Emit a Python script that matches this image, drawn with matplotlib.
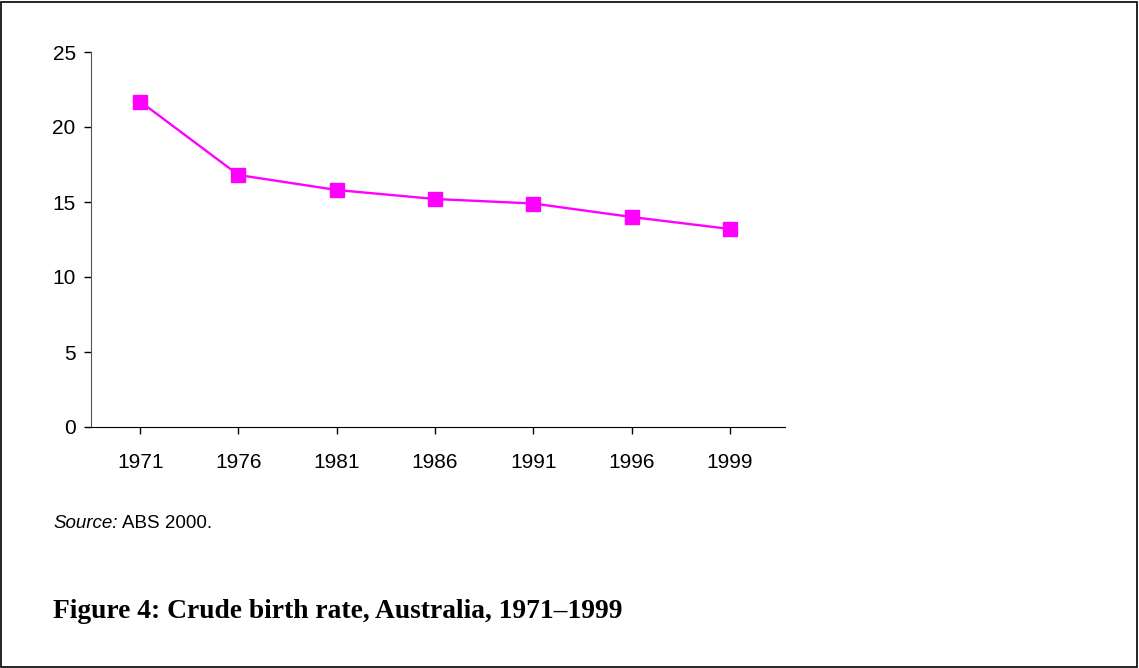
import matplotlib
matplotlib.use('Agg')
import matplotlib.pyplot as plt
from matplotlib.patches import Rectangle

# Dati
years = ['1971', '1976', '1981', '1986', '1991', '1996', '1999']
birth_rate = [21.7, 16.8, 15.8, 15.2, 14.9, 14.0, 13.2]

plt.rcParams['font.family'] = ['Liberation Sans', 'DejaVu Sans']

fig = plt.figure(figsize=(11.39, 6.68), dpi=100)
ax = fig.add_axes([91 / 1139, 1 - 427 / 668, 694 / 1139, 375 / 668])

x = range(len(years))
ax.plot(x, birth_rate, color='#FF00FF', linewidth=1.7, marker='s', markersize=10)

ax.set_xlim(-0.5, 6.56)
ax.set_ylim(0, 25)
ax.set_yticks([0, 5, 10, 15, 20, 25])
ax.set_xticks(list(x))
ax.set_xticklabels(years)
ax.tick_params(axis='both', labelsize=15, color='black', length=5, width=1)
ax.tick_params(axis='x', pad=14)
ax.tick_params(axis='y', pad=6)

for side in ['top', 'right']:
    ax.spines[side].set_visible(False)
ax.spines['left'].set_color('#555555')
ax.spines['bottom'].set_color('black')

# Testi
src = fig.text(53 / 1139, 1 - 524 / 668, 'Source:', fontsize=13.5, style='italic', va='center')
fig.canvas.draw()
bb = src.get_window_extent()
fig.text(bb.x1 + 5, bb.y0, 'ABS 2000.', fontsize=13.5, va='bottom',
         transform=None)
fig.text(53 / 1139, 1 - 612 / 668, 'Figure 4: Crude birth rate, Australia, 1971\u20131999',
         fontsize=19.8, fontweight='bold', family='Liberation Serif', va='center')

# Bordo
fig.patches.append(Rectangle((1 / 1139, 1 / 668), 1136 / 1139, 665 / 668,
                             transform=fig.transFigure, fill=False,
                             edgecolor='black', linewidth=1.2))

plt.savefig('out.png', dpi=100)
